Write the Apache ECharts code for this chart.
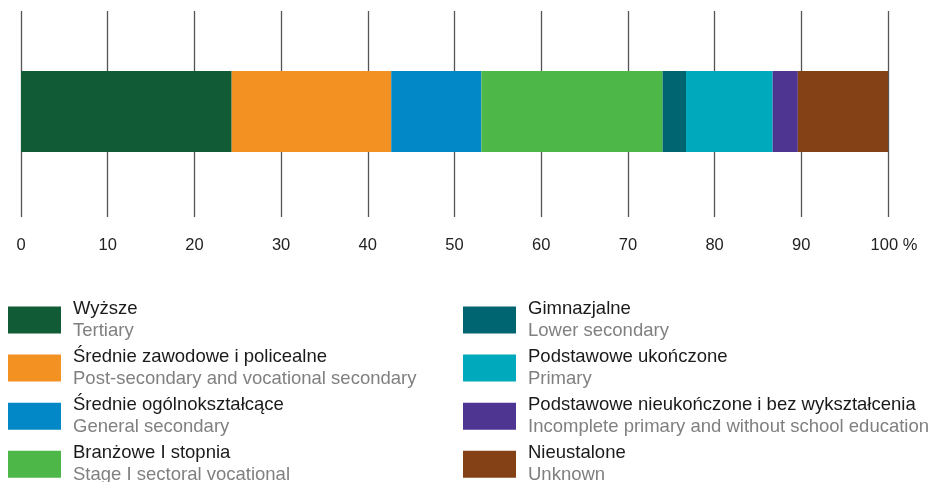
<!DOCTYPE html>
<html>
<head>
<meta charset="utf-8">
<script src="https://cdn.jsdelivr.net/npm/echarts@6/dist/echarts.min.js"></script>
<style>
html,body{margin:0;padding:0;background:#fff;}
#chart{width:932px;height:482px;}
</style>
</head>
<body>
<div id="chart"></div>
<script>
const categories = ['Ogółem'];
const namesPl = ['Wyższe', 'Średnie zawodowe i policealne', 'Średnie ogólnokształcące', 'Branżowe I stopnia', 'Gimnazjalne', 'Podstawowe ukończone', 'Podstawowe nieukończone i bez wykształcenia', 'Nieustalone'];
const namesEn = ['Tertiary', 'Post-secondary and vocational secondary', 'General secondary', 'Stage I sectoral vocational', 'Lower secondary', 'Primary', 'Incomplete primary and without school education', 'Unknown'];
const values = [24.3, 18.4, 10.4, 20.9, 2.7, 10.0, 2.9, 10.4];
const colors = ['#115c36', '#f39123', '#0288c7', '#4db848', '#006570', '#00a9bc', '#4e3592', '#844116'];
const xTicks = [0, 10, 20, 30, 40, 50, 60, 70, 80, 90, 100];

const font = "'Liberation Sans', Arial, sans-serif";
const chart = echarts.init(document.getElementById('chart'), null, {renderer: 'canvas'});

const enOf = {};
namesPl.forEach((n, i) => enOf[n] = namesEn[i]);

function legendCfg(names, left) {
  return {
    data: names,
    left: left,
    top: 299.5,
    height: 240,
    orient: 'vertical',
    padding: 0,
    itemGap: 7.1,
    itemWidth: 53,
    itemHeight: 27,
    icon: 'rect',
    selectedMode: false,
    formatter: n => '{a|' + n + '}\n{b|' + enOf[n] + '}',
    textStyle: {
      fontFamily: font,
      rich: {
        a: {fontSize: 18.5, lineHeight: 22, color: '#1a1a1a', fontFamily: font, padding: [0, 0, 0, 7]},
        b: {fontSize: 18.5, lineHeight: 22, color: '#808080', fontFamily: font, padding: [0, 0, 0, 7]}
      }
    }
  };
}

const option = {
  animation: false,
  backgroundColor: '#fff',
  grid: {left: 21, right: 44, top: 6, height: 211},
  legend: [legendCfg(namesPl.slice(0, 4), 8), legendCfg(namesPl.slice(4), 463)],
  xAxis: {
    type: 'value',
    min: 0,
    max: 100,
    interval: 10,
    axisLine: {show: false},
    splitLine: {show: false},
    axisTick: {show: true, inside: true, length: 206, lineStyle: {color: '#555', width: 1.3}},
    axisLabel: {
      margin: 20,
      fontSize: 16.5,
      fontFamily: font,
      color: '#222',
      formatter: v => xTicks.indexOf(v) >= 0 ? (v === 100 ? '{p|100 %}' : String(v)) : '',
      rich: {p: {fontSize: 16.5, fontFamily: font, color: '#222', padding: [0, 0, 0, 12]}}
    }
  },
  yAxis: {
    type: 'category',
    data: categories,
    show: false
  },
  series: namesPl.map((n, i) => ({
    name: n,
    type: 'bar',
    stack: 'total',
    barWidth: 81,
    itemStyle: {color: colors[i]},
    data: [values[i]]
  }))
};
chart.setOption(option);
</script>
</body>
</html>
